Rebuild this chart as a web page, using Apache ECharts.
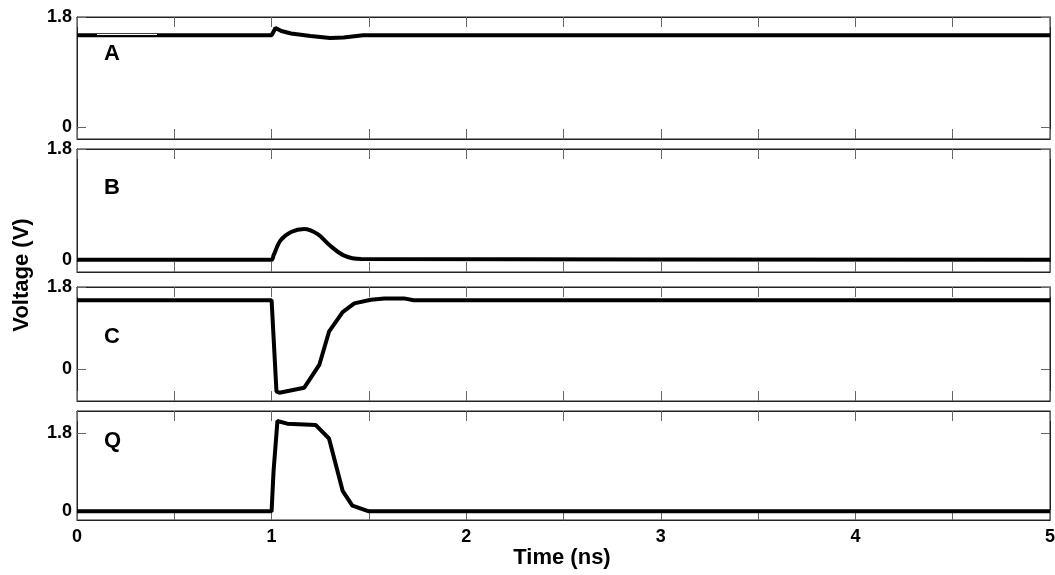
<!DOCTYPE html>
<html>
<head>
<meta charset="utf-8">
<script src="https://cdn.jsdelivr.net/npm/echarts@6/dist/echarts.min.js"></script>
<style>
  html, body { margin: 0; padding: 0; background: #fff; }
  #chart { width: 1055px; height: 575px; }
</style>
</head>
<body>
<div id="chart"></div>
<script>
// time in ns, voltage in V
const tA = [0, 1.0, 1.02, 1.05, 1.1, 1.2, 1.3, 1.37, 1.47, 5]
const vA = [1.5, 1.5, 1.62, 1.57, 1.53, 1.49, 1.455, 1.465, 1.5, 1.5]

const tB = [0, 1.0, 1.01, 1.045, 1.1, 1.167, 1.235, 1.3, 1.37, 1.46, 5]
const vB = [0, 0, 0.07, 0.31, 0.45, 0.5, 0.42, 0.23, 0.07, 0.01, 0]

const tC = [0, 1.0, 1.01, 1.025, 1.04, 1.167, 1.245, 1.295, 1.365, 1.425, 1.51, 1.58, 1.68, 1.73, 5]
const vC = [1.51, 1.51, 0.71, -0.49, -0.52, -0.41, 0.09, 0.82, 1.25, 1.44, 1.52, 1.55, 1.55, 1.51, 1.51]

const tQ = [0, 1.0, 1.01, 1.03, 1.08, 1.226, 1.295, 1.365, 1.415, 1.5, 5]
const vQ = [0, 0, 0.92, 2.07, 2.01, 1.98, 1.67, 0.47, 0.13, 0, 0]

const names = ['A', 'B', 'C', 'Q']
const yTicks = [0, 1.8]
const xLabels = ['0', '1', '2', '3', '4', '5']

const panels = [
  { t: tA, v: vA, min: -0.2, max: 1.8, top: 17, height: 122, smooth: false, ly: 54 },
  { t: tB, v: vB, min: -0.2, max: 1.8, top: 149, height: 123, smooth: 0.3, ly: 188 },
  { t: tC, v: vC, min: -0.7, max: 1.8, top: 287, height: 114, smooth: false, ly: 337 },
  { t: tQ, v: vQ, min: -0.2, max: 2.3, top: 411, height: 109, smooth: false, ly: 441 },
]

const font = '"Liberation Sans", Arial, sans-serif'
const frame = { show: true, onZero: false, lineStyle: { color: '#222', width: 1 } }
const tick = { show: true, inside: true, length: 10, lineStyle: { color: '#666', width: 1 } }

const grid = []
const xAxis = []
const yAxis = []
const series = []
const graphic = []

panels.forEach((p, i) => {
  grid.push({
    left: 77,
    right: 5,
    top: p.top,
    height: p.height,
    show: true,
    borderColor: '#222',
    borderWidth: 1,
    containLabel: false,
    outerBoundsMode: 'none',
  })
  const last = i === panels.length - 1

  // bottom & top x axes
  ;['bottom', 'top'].forEach((pos) => {
    xAxis.push({
      type: 'value',
      gridIndex: i,
      position: pos,
      min: 0,
      max: 5,
      interval: 0.5,
      axisLine: frame,
      axisTick: tick,
      splitLine: { show: false },
      axisLabel: {
        show: last && pos === 'bottom',
        margin: 8,
        fontSize: 18,
        fontWeight: 'bold',
        fontFamily: font,
        color: '#000',
        formatter: (v) => (Number.isInteger(v) ? xLabels[v] : ''),
      },
    })
  })

  // left & right y axes
  ;['left', 'right'].forEach((pos) => {
    yAxis.push({
      type: 'value',
      gridIndex: i,
      position: pos,
      min: p.min,
      max: p.max,
      axisLine: frame,
      axisTick: { ...tick, length: 9, customValues: yTicks },
      splitLine: { show: false },
      axisLabel: {
        show: pos === 'left',
        customValues: yTicks,
        margin: 5,
        fontSize: 18,
        fontWeight: 'bold',
        fontFamily: font,
        color: '#000',
        formatter: (v) => (v === 0 ? '0' : '1.8'),
      },
    })
  })

  series.push({
    type: 'line',
    xAxisIndex: i * 2,
    yAxisIndex: i * 2,
    data: p.t.map((t, k) => [t, p.v[k]]),
    showSymbol: false,
    smooth: p.smooth,
    lineStyle: { color: '#000', width: 4 },
    silent: true,
  })

  graphic.push({
    type: 'text',
    left: 104,
    top: p.ly - 11,
    style: { text: names[i], font: 'bold 22px ' + font, fill: '#000' },
  })
})

graphic.push(
  {
    type: 'text',
    x: 22,
    y: 275,
    rotation: Math.PI / 2,
    style: { text: 'Voltage (V)', font: 'bold 22px ' + font, fill: '#000', align: 'center', verticalAlign: 'middle' },
  },
  {
    type: 'text',
    x: 562,
    y: 558,
    style: { text: 'Time (ns)', font: 'bold 22px ' + font, fill: '#000', align: 'center', verticalAlign: 'middle' },
  },
  {
    type: 'line',
    shape: { x1: 97, y1: 34.5, x2: 157, y2: 34.5 },
    style: { stroke: '#fff', lineWidth: 1 },
    z: 100,
  }
)

const c = echarts.init(document.getElementById('chart'))
c.setOption({
  animation: false,
  grid: grid,
  xAxis: xAxis,
  yAxis: yAxis,
  series: series,
  graphic: graphic,
})
</script>
</body>
</html>
